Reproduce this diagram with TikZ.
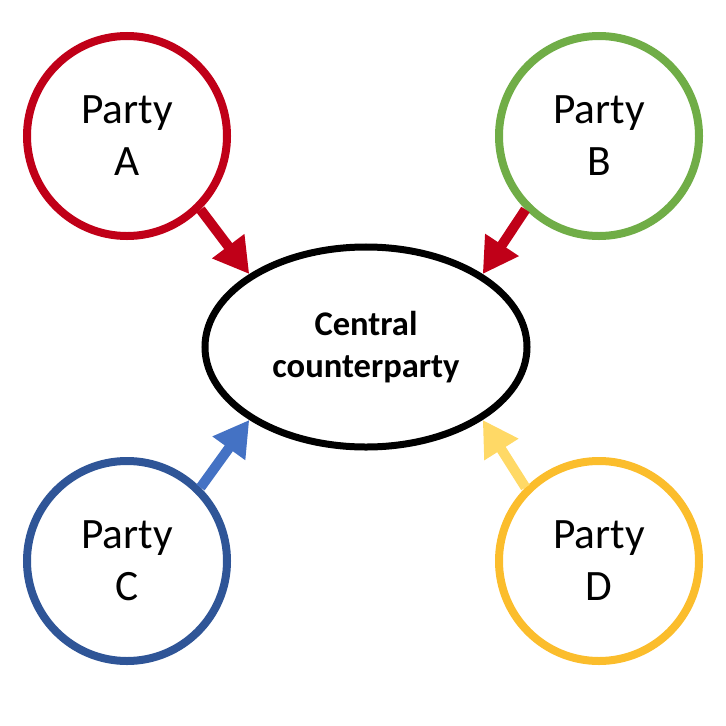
\documentclass[tikz,border=0pt]{standalone}
\usepackage{fontspec}
\setmainfont{Carlito}
\usetikzlibrary{arrows.meta,shapes.geometric}
\definecolor{redA}{RGB}{192,0,24}
\definecolor{greenB}{RGB}{112,173,71}
\definecolor{blueC}{RGB}{47,85,151}
\definecolor{blueCarrow}{RGB}{68,114,196}
\definecolor{yellowD}{RGB}{251,189,44}
\definecolor{yellowDarrow}{RGB}{255,217,102}
\tikzset{
  party/.style={circle,draw=#1,line width=0.24cm,minimum size=6cm,align=center,
    font=\fontsize{37}{44.4}\selectfont},
  flow/.style={draw=#1,-{Triangle[length=1.05cm,width=1.14cm,fill=#1]},line width=0.3cm}
}

\begin{document}
\begin{tikzpicture}[x=0.03cm,y=-0.03cm]
\useasboundingbox (0,0) rectangle (726,726);
\node[ellipse,draw,line width=0.21cm,minimum width=9.66cm,minimum height=6cm,align=center,
  font=\fontsize{29.5}{36}\selectfont\bfseries] (ccp) at (366,347) {Central\\counterparty};
\node[party=redA] (A) at (127,136) {Party\\A};
\node[party=greenB] (B) at (599,136) {Party\\B};
\node[party=blueC] (C) at (127,561) {Party\\C};
\node[party=yellowD] (D) at (599,561) {Party\\D};
% arrows into the ellipse
\draw[flow=redA] (A.-45) -- (ccp.148);
\draw[flow=redA] (B.-135) -- (ccp.32);
\draw[flow=blueCarrow] (C.45) -- (ccp.212);
\draw[flow=yellowDarrow] (D.135) -- (ccp.-32);
\end{tikzpicture}
\end{document}
